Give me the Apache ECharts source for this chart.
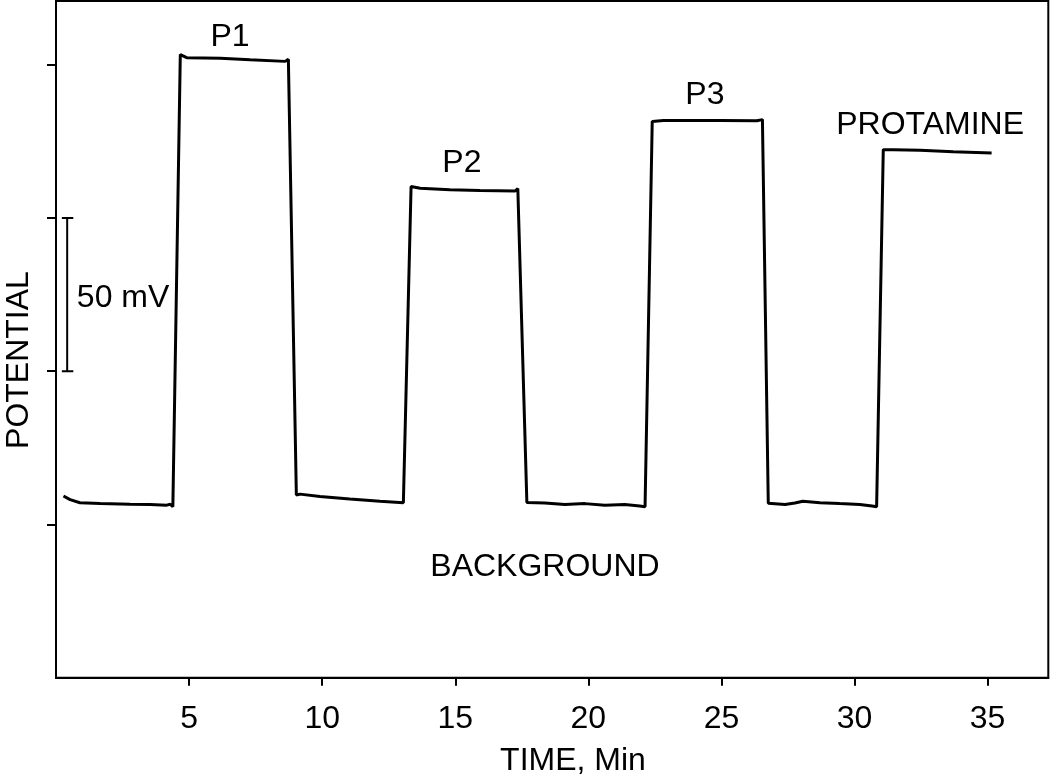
<!DOCTYPE html>
<html>
<head>
<meta charset="utf-8">
<script src="https://cdn.jsdelivr.net/npm/echarts@6/dist/echarts.min.js"></script>
<style>
html,body{margin:0;padding:0;background:#fff;}
#chart{width:1050px;height:784px;}
</style>
</head>
<body>
<div id="chart"></div>
<script>
// Time (min) of trace samples
var time = [0.28,0.53,0.9,1.66,2.78,3.53,4.16,4.29,4.39,
  4.67,4.91,6.17,7.29,8.61,8.73,8.8,
  9.03,9.17,9.92,11.04,12.17,13.05,
  13.34,13.68,14.8,15.93,17.25,17.35,17.42,
  17.69,18.37,19.12,19.87,20.62,21.37,21.93,22.13,
  22.4,22.82,24.95,26.33,26.54,26.6,
  26.76,27.39,27.46,27.76,28.06,28.7,29.44,30.2,30.66,30.83,
  31.08,31.46,32.46,33.71,35.15];
// Potential (mV, relative) of trace samples
var potential = [59.3,58.1,57.1,56.8,56.6,56.5,56.3,56.6,55.8,
  203.3,202.3,202.1,201.6,201.1,201.8,201.4,
  59.6,59.9,59.1,58.3,57.6,57.1,
  160.3,159.7,159.2,159.0,158.8,159.6,159.2,
  57.2,57.0,56.5,56.8,56.3,56.5,56.0,55.8,
  181.5,181.8,181.8,181.7,182.1,181.5,
  56.9,56.5,56.2,57.0,57.6,57.1,56.8,56.5,56.0,55.8,
  172.3,172.3,172.1,171.6,171.2];
var xTicks = [5,10,15,20,25,30,35];
var yTicks = [50,100,150,200];
// 50 mV scale bar
var scaleBarX = 0.42, scaleBarCapL = 0.22, scaleBarCapR = 0.65;
var scaleBarRange = [100,150];
// Annotations [time, potential, text]
var annotations = [
  [6.54,209.0,'P1'],
  [15.25,168.0,'P2'],
  [24.38,190.0,'P3'],
  [32.84,180.2,'PROTAMINE'],
  [18.37,36.0,'BACKGROUND'],
  [2.52,123.8,'50 mV']
];

var FONT = '"Liberation Sans", Arial, sans-serif';
var trace = time.map(function(t,i){return [t, potential[i]];});
var bar = [
  [scaleBarCapL, scaleBarRange[1]],[scaleBarCapR, scaleBarRange[1]],[scaleBarX, scaleBarRange[1]],
  [scaleBarX, scaleBarRange[0]],[scaleBarCapL, scaleBarRange[0]],[scaleBarCapR, scaleBarRange[0]]
];

var chart = echarts.init(document.getElementById('chart'), null, {renderer:'canvas'});
chart.setOption({
  animation:false,
  backgroundColor:'#fff',
  grid:{left:56,right:1.7,top:1,bottom:106.3,show:true,borderColor:'#000',borderWidth:2,containLabel:false},
  xAxis:{type:'value',min:0,max:37.28,interval:5,
    axisLine:{show:true,onZero:false,lineStyle:{color:'#000',width:2}},
    axisTick:{show:true,length:8,lineStyle:{color:'#000',width:2},customValues:xTicks},
    axisLabel:{show:true,color:'#000',fontSize:32,fontFamily:FONT,margin:25,customValues:xTicks},
    splitLine:{show:false}},
  yAxis:{type:'value',min:0,max:220.8,interval:50,
    axisLine:{show:true,onZero:false,lineStyle:{color:'#000',width:2}},
    axisTick:{show:true,length:9,lineStyle:{color:'#000',width:2},customValues:yTicks},
    axisLabel:{show:false},
    splitLine:{show:false}},
  series:[
    {type:'line',data:trace,showSymbol:false,symbol:'none',lineStyle:{color:'#000',width:3},z:3},
    {type:'line',data:bar,showSymbol:false,symbol:'none',lineStyle:{color:'#000',width:2},z:3},
    {type:'scatter',data:annotations.map(function(a){return {value:[a[0],a[1]],name:a[2]};}),
      symbolSize:0,itemStyle:{opacity:1,color:'#000'},
      emphasis:{disabled:true},
      label:{show:true,position:'inside',formatter:function(p){return p.name;},
        color:'#000',opacity:1,fontSize:32,fontFamily:FONT}}
  ],
  graphic:[
    {type:'text',x:573,y:761,style:{text:'TIME, Min',fill:'#000',font:'32px '+FONT,textAlign:'center',textVerticalAlign:'middle'}},
    {type:'text',x:19.5,y:360,rotation:Math.PI/2,style:{text:'POTENTIAL',fill:'#000',font:'32px '+FONT,textAlign:'center',textVerticalAlign:'middle'}}
  ]
});
</script>
</body>
</html>
